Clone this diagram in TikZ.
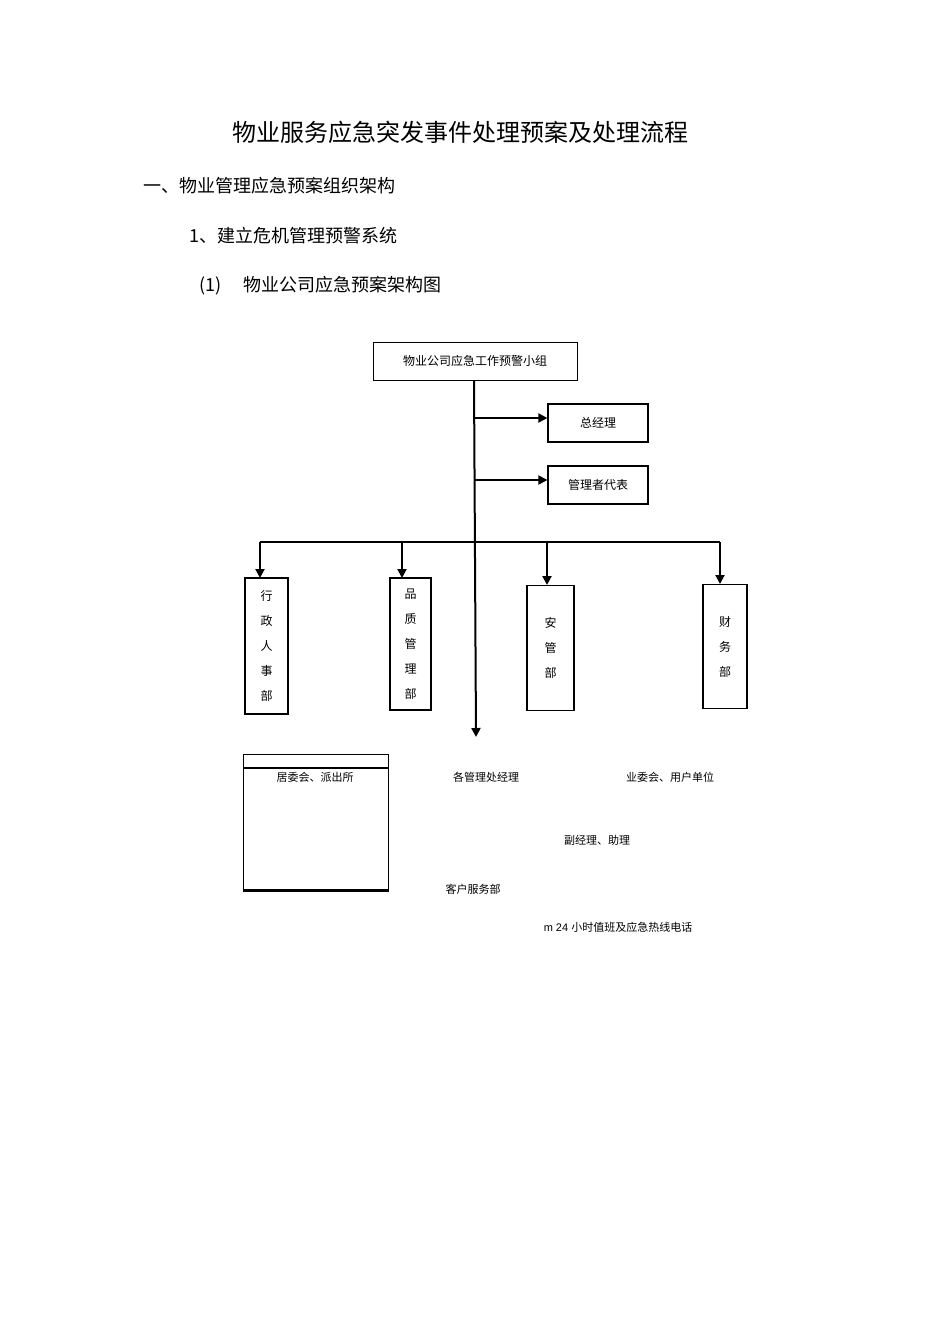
\documentclass[tikz,border=0pt]{standalone}
\usepackage{fontspec}
\setmainfont{Liberation Serif}
\newfontfamily\cjk{Noto Sans CJK SC}
\usetikzlibrary{arrows.meta}
\begin{document}
\begin{tikzpicture}[x=1pt,y=-1pt,
  ar/.style={line width=2pt,-{Triangle[length=9pt,width=9pt]}},
  ln/.style={line width=2pt},
  tx/.style={font=\cjk\fontsize{11}{13}\selectfont,inner sep=0pt}]
\useasboundingbox[fill=white] (0,0) rectangle (950,1344);
\node[font=\cjk\fontsize{24}{28}\selectfont] (t) at (460,132) {物业服务应急突发事件处理预案及处理流程};
\node[anchor=west,font=\cjk\fontsize{18}{22}\selectfont] (h1) at (140,186) {一、物业管理应急预案组织架构};
\node[anchor=west,font=\cjk\fontsize{18}{22}\selectfont] (h2) at (186,236) {1、建立危机管理预警系统};
\node[anchor=west,font=\cjk\fontsize{18}{22}\selectfont] (h3) at (196,286) {(1)\hspace{22pt}物业公司应急预案架构图};

\node[draw,line width=1pt,minimum width=204pt,minimum height=38pt,font=\cjk\fontsize{12}{14}\selectfont] (top) at (475,361) {物业公司应急工作预警小组};
\node[draw,line width=1.2pt,minimum width=100pt,minimum height=38pt,font=\cjk\fontsize{12}{14}\selectfont] (zjl) at (598,423) {总经理};
\node[draw,line width=1.2pt,minimum width=100pt,minimum height=38pt,font=\cjk\fontsize{12}{14}\selectfont] (gl) at (598,485) {管理者代表};
\coordinate (end) at (476,737);
\draw[ar] (top.south -| 474,0) -- (end);
\coordinate (b1) at (474,418); \coordinate (b2) at (474,480);
\draw[ar] (b1) -- (b1 -| zjl.west);
\draw[ar] (b2) -- (b2 -| gl.west);

\node[draw,line width=1.2pt,minimum width=43pt,minimum height=136pt,font=\cjk\fontsize{12}{25}\selectfont,align=center] (d1) at (266.5,646) {行\\政\\人\\事\\部};
\node[draw,line width=1.2pt,minimum width=41pt,minimum height=132pt,font=\cjk\fontsize{12}{25}\selectfont,align=center] (d2) at (410.5,644) {品\\质\\管\\理\\部};
\node[draw,line width=1.2pt,minimum width=47pt,minimum height=125pt,font=\cjk\fontsize{12}{25}\selectfont,align=center,anchor=north,inner ysep=12pt] (d3) at (550.5,585) {安\\管\\部};
\node[draw,line width=1.2pt,minimum width=44pt,minimum height=124pt,font=\cjk\fontsize{12}{25}\selectfont,align=center,anchor=north,inner ysep=12pt] (d4) at (725,584) {财\\务\\部};
\coordinate (hl) at (260,542); \coordinate (hr) at (720,542);
\draw[ln] (hl) -- (hr);
\draw[ar] (hl) -- (260,578);
\draw[ar] (402,542) -- (402,578);
\draw[ar] (547,542) -- (547,585);
\draw[ar] (hr) -- (720,584);

\node[draw,line width=1pt,minimum width=145pt,minimum height=136pt] (bx) at (315.5,822) {};
\draw[line width=2.5pt] (bx.west |- 0,768) -- (bx.east |- 0,768);
\draw[line width=2.5pt] (bx.south west) -- (bx.south east);
\node[tx] (a1) at (315,777) {居委会、派出所};
\node[tx] (a2) at (486,777) {各管理处经理};
\node[tx] (a3) at (670,777) {业委会、用户单位};
\node[tx] (a4) at (597,840) {副经理、助理};
\node[tx] (a5) at (473,889) {客户服务部};
\node[tx] (a6) at (618,927) {\fontspec{Liberation Sans}m 24 \cjk 小时值班及应急热线电话};
\end{tikzpicture}
\end{document}
